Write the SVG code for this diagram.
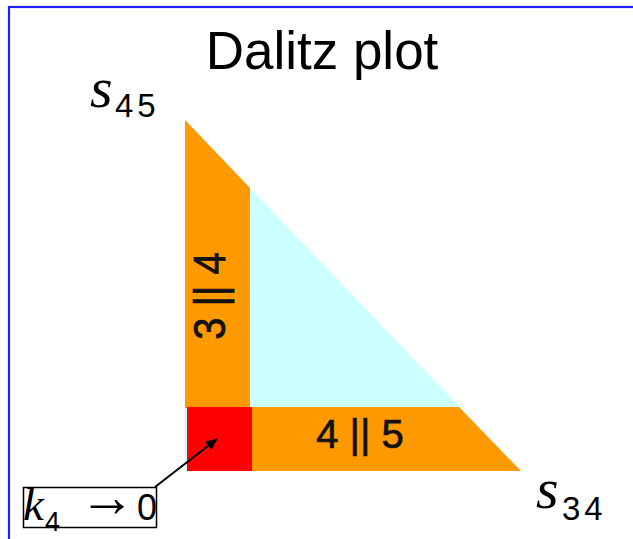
<svg xmlns="http://www.w3.org/2000/svg" width="633" height="539" viewBox="0 0 633 539">
<style>
.num{font-family:"Liberation Sans",Arial,sans-serif;fill:#111;stroke:#111;stroke-width:0.7}
.it{font-family:"Liberation Serif","Times New Roman",serif;font-style:italic;fill:#000}
.sub{font-family:"Liberation Sans",Arial,sans-serif;fill:#000}
.orange{fill:#FF9900}
</style>
<defs>
<marker id="ah" viewBox="0 0 10 10" refX="10" refY="5" markerWidth="14" markerHeight="11" markerUnits="userSpaceOnUse" orient="auto">
<path d="M0,0 L10,5 L0,10 z" fill="#000"/>
</marker>
</defs>
<rect x="0" y="0" width="633" height="539" fill="#fff"/>
<rect x="9" y="7" width="640" height="560" fill="none" stroke="#1f1fff" stroke-width="2.2"/>
<g id="title"><text x="322" y="69" font-family="Liberation Sans,Arial,sans-serif" font-size="53" text-anchor="middle" fill="#000">Dalitz plot</text></g>
<g id="plot">
<polygon points="185,120 521,471 185,471" fill="#CCFFFF"/>
<polygon class="orange" points="185,120 250,188 250,408 185,408"/>
<polygon class="orange" points="187,407 459,407 521,471 187,471"/>
<rect x="187" y="407" width="65" height="64" fill="#FF0000"/>
</g>
<g id="label-34"><text class="num" font-size="40" text-anchor="middle" transform="translate(225,296) rotate(-90) scale(1,1.1)">3 || 4</text></g>
<g id="label-45"><text class="num" font-size="40" x="360" y="448" text-anchor="middle">4 || 5</text></g>
<g id="axis-s45"><text x="90" y="107"><tspan class="it" font-size="58">s</tspan><tspan class="sub" font-size="33" x="115" y="117" letter-spacing="4">45</tspan></text></g>
<g id="axis-s34"><text x="536" y="508"><tspan class="it" font-size="58">s</tspan><tspan class="sub" font-size="33" x="562" y="520" letter-spacing="4">34</tspan></text></g>
<g id="k4-box">
<rect x="23.5" y="487.5" width="133" height="40" fill="#fff" stroke="#000" stroke-width="1.5"/>
<text class="it" font-size="47" x="23" y="520">k</text>
<text class="sub" font-size="27" x="45" y="531">4</text>
<text font-family="Liberation Serif,serif" font-size="44" transform="translate(79,516) scale(1.27,1.3)">→</text>
<text class="sub" font-size="36" x="137" y="520">0</text>
</g>
<g id="connectors">
<line x1="155" y1="487" x2="217" y2="439" stroke="#000" stroke-width="2" marker-end="url(#ah)"/>
</g>
</svg>
